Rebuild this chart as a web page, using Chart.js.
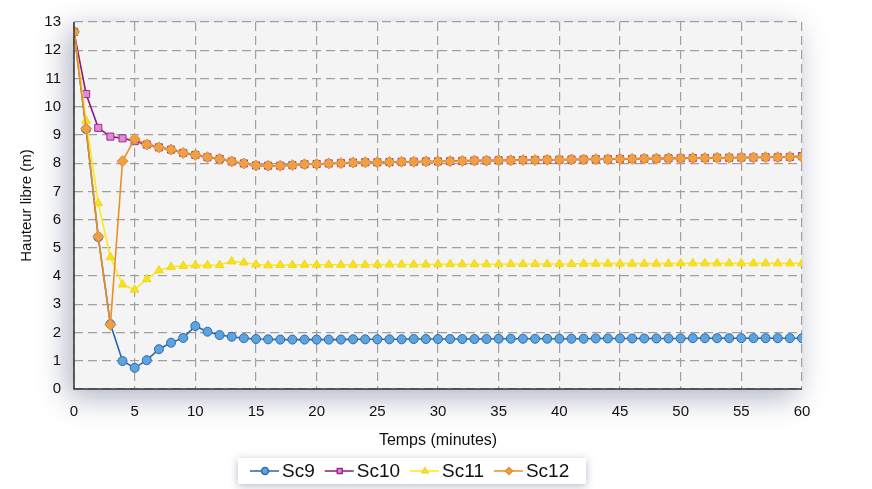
<!DOCTYPE html>
<html>
<head>
<meta charset="utf-8">
<script src="https://cdn.jsdelivr.net/npm/chart.js@4.4.1/dist/chart.umd.min.js"></script>
<style>
  html, body { margin: 0; padding: 0; background: #fff; }
  #wrap { position: relative; width: 872px; height: 489px; }
</style>
</head>
<body>
<div id="wrap"><canvas id="chart" width="872" height="489"></canvas></div>
<script>
// time in minutes, one reading per minute
const minutes = Array.from({ length: 61 }, (_, i) => i);
const xTicks = [0, 5, 10, 15, 20, 25, 30, 35, 40, 45, 50, 55, 60];

const sc9 = [
  12.65, 9.2, 5.38, 2.3, 0.99, 0.75, 1.02, 1.41, 1.64, 1.81,
  2.23, 2.03, 1.91, 1.85, 1.8, 1.77, 1.76, 1.75, 1.75, 1.75,
  1.75, 1.75, 1.75, 1.76, 1.76, 1.76, 1.76, 1.76, 1.77, 1.77,
  1.77, 1.77, 1.77, 1.77, 1.77, 1.78, 1.78, 1.78, 1.78, 1.78,
  1.78, 1.78, 1.78, 1.79, 1.79, 1.79, 1.79, 1.79, 1.79, 1.79,
  1.79, 1.8, 1.8, 1.8, 1.8, 1.8, 1.8, 1.8, 1.8, 1.8, 1.8
];
const sc10 = [
  12.65, 10.45, 9.25, 8.94, 8.88, 8.78, 8.66, 8.56, 8.48, 8.36,
  8.29, 8.21, 8.15, 8.06, 7.99, 7.92, 7.91, 7.91, 7.93, 7.96,
  7.97, 7.99, 8.0, 8.02, 8.03, 8.03, 8.04, 8.05, 8.05, 8.06,
  8.06, 8.07, 8.08, 8.09, 8.09, 8.1, 8.1, 8.11, 8.11, 8.12,
  8.12, 8.13, 8.13, 8.14, 8.14, 8.15, 8.15, 8.16, 8.16, 8.17,
  8.17, 8.18, 8.18, 8.19, 8.19, 8.2, 8.2, 8.21, 8.21, 8.22, 8.25
];
const sc11 = [
  12.65, 9.5, 6.58, 4.67, 3.7, 3.52, 3.89, 4.2, 4.32, 4.36,
  4.38, 4.38, 4.39, 4.52, 4.48, 4.41, 4.38, 4.39, 4.39, 4.4,
  4.4, 4.4, 4.4, 4.4, 4.4, 4.41, 4.41, 4.41, 4.41, 4.41,
  4.42, 4.42, 4.42, 4.42, 4.42, 4.42, 4.43, 4.43, 4.43, 4.43,
  4.43, 4.43, 4.44, 4.44, 4.44, 4.44, 4.44, 4.44, 4.44, 4.44,
  4.45, 4.45, 4.45, 4.45, 4.45, 4.45, 4.45, 4.45, 4.45, 4.45, 4.45
];
const sc12 = [
  12.65, 9.22, 5.4, 2.28, 8.07, 8.86, 8.66, 8.56, 8.48, 8.36,
  8.29, 8.21, 8.15, 8.06, 7.99, 7.92, 7.91, 7.91, 7.93, 7.96,
  7.97, 7.99, 8.0, 8.02, 8.03, 8.03, 8.04, 8.05, 8.05, 8.06,
  8.06, 8.07, 8.08, 8.09, 8.09, 8.1, 8.1, 8.11, 8.11, 8.12,
  8.12, 8.13, 8.13, 8.14, 8.14, 8.15, 8.15, 8.16, 8.16, 8.17,
  8.17, 8.18, 8.18, 8.19, 8.19, 8.2, 8.2, 8.21, 8.21, 8.22, 8.22
];

const FONT = "'Liberation Sans', Arial, sans-serif";

function pts(values) {
  return values.map((v, i) => ({ x: minutes[i], y: v }));
}

// paper background + drop shadow behind the plot area
const panelBg = {
  id: "panelBg",
  beforeDraw(chart) {
    const { ctx, chartArea: a } = chart;
    ctx.save();
    ctx.shadowColor = "rgba(70, 80, 120, 0.45)";
    ctx.shadowBlur = 28;
    ctx.shadowOffsetX = -6;
    ctx.shadowOffsetY = 8;
    ctx.fillStyle = "#f4f4f4";
    ctx.fillRect(a.left, a.top, a.right - a.left, a.bottom - a.top);
    ctx.restore();
  },
  afterDatasetsDraw(chart) {
    // solid axis lines on left and bottom
    const { ctx, chartArea: a } = chart;
    ctx.save();
    ctx.strokeStyle = "#333";
    ctx.lineWidth = 1.5;
    ctx.beginPath();
    ctx.moveTo(a.left, a.top);
    ctx.lineTo(a.left, a.bottom);
    ctx.lineTo(a.right, a.bottom);
    ctx.stroke();
    ctx.restore();
  }
};

// boxed legend with line + marker samples
const boxLegend = {
  id: "boxLegend",
  afterDraw(chart) {
    const { ctx } = chart;
    const bx = 238, by = 458, bw = 348, bh = 26;
    ctx.save();
    ctx.shadowColor = "rgba(70, 80, 120, 0.4)";
    ctx.shadowBlur = 8;
    ctx.shadowOffsetY = 2;
    ctx.fillStyle = "#fff";
    ctx.fillRect(bx, by, bw, bh);
    ctx.restore();

    ctx.save();
    ctx.font = "19px " + FONT;
    ctx.textBaseline = "middle";
    let x = bx + 12;
    const y = by + bh / 2;
    chart.data.datasets.forEach((ds) => {
      ctx.strokeStyle = ds.borderColor;
      ctx.lineWidth = 1.5;
      ctx.beginPath();
      ctx.moveTo(x, y);
      ctx.lineTo(x + 29, y);
      ctx.stroke();
      ctx.fillStyle = ds.pointBackgroundColor;
      ctx.strokeStyle = ds.pointBorderColor;
      Chart.helpers.drawPoint(ctx, {
        pointStyle: ds.pointStyle,
        radius: 3.5,
        rotation: 0,
        borderWidth: 1
      }, x + 15, y);
      ctx.fillStyle = "#111";
      ctx.fillText(ds.label, x + 32, y + 1);
      x += 32 + ctx.measureText(ds.label).width + 10;
    });
    ctx.restore();
  }
};

const gridDash = { color: "#a0a0a0", lineWidth: 1.2, drawTicks: false };
const dashBorder = { display: false, dash: [9, 5] };

new Chart(document.getElementById("chart").getContext("2d"), {
  type: "line",
  data: {
    datasets: [
      {
        label: "Sc9",
        data: pts(sc9),
        borderColor: "#2a65ad",
        pointBackgroundColor: "#5ea3dc",
        pointBorderColor: "#2a6cb4",
        pointStyle: "circle",
        pointRadius: 4.5,
        order: 4
      },
      {
        label: "Sc10",
        data: pts(sc10),
        borderColor: "#8c1a7e",
        pointBackgroundColor: "#e08ad6",
        pointBorderColor: "#9b2a8e",
        pointStyle: "rect",
        pointRadius: 5,
        order: 3
      },
      {
        label: "Sc11",
        data: pts(sc11),
        borderColor: "#f9ea1e",
        pointBackgroundColor: "#f6e020",
        pointBorderColor: "#f0d820",
        pointStyle: "triangle",
        pointRadius: 5,
        order: 2
      },
      {
        label: "Sc12",
        data: pts(sc12),
        borderColor: "#e88f2c",
        pointBackgroundColor: "#f0a044",
        pointBorderColor: "#e0902c",
        pointStyle: "rectRot",
        pointRadius: 5.5,
        order: 1
      }
    ].map((d) => Object.assign({ borderWidth: 1.6, pointBorderWidth: 1, tension: 0, fill: false }, d))
  },
  options: {
    responsive: false,
    animation: false,
    layout: { padding: { left: 18, right: 70, top: 12, bottom: 39 } },
    plugins: {
      legend: { display: false },
      tooltip: { enabled: false }
    },
    scales: {
      x: {
        type: "linear",
        min: 0,
        max: 60,
        afterBuildTicks(axis) {
          axis.ticks = xTicks.map((v) => ({ value: v }));
        },
        afterFit(axis) {
          axis.height = 61;
        },
        border: dashBorder,
        grid: gridDash,
        ticks: { color: "#111", font: { family: FONT, size: 15 }, padding: 14, maxRotation: 0 },
        title: {
          display: true,
          text: "Temps (minutes)",
          color: "#111",
          font: { family: FONT, size: 16 },
          padding: { top: 0, bottom: 0 }
        }
      },
      y: {
        min: 0,
        max: 13,
        border: dashBorder,
        grid: gridDash,
        afterFit(axis) {
          axis.width = 56;
        },
        ticks: { stepSize: 1, color: "#111", font: { family: FONT, size: 15 }, padding: 13 },
        title: {
          display: true,
          text: "Hauteur libre (m)",
          color: "#111",
          font: { family: FONT, size: 15 },
          padding: { top: 0, bottom: 0 }
        }
      }
    }
  },
  plugins: [panelBg, boxLegend]
});
</script>
</body>
</html>
